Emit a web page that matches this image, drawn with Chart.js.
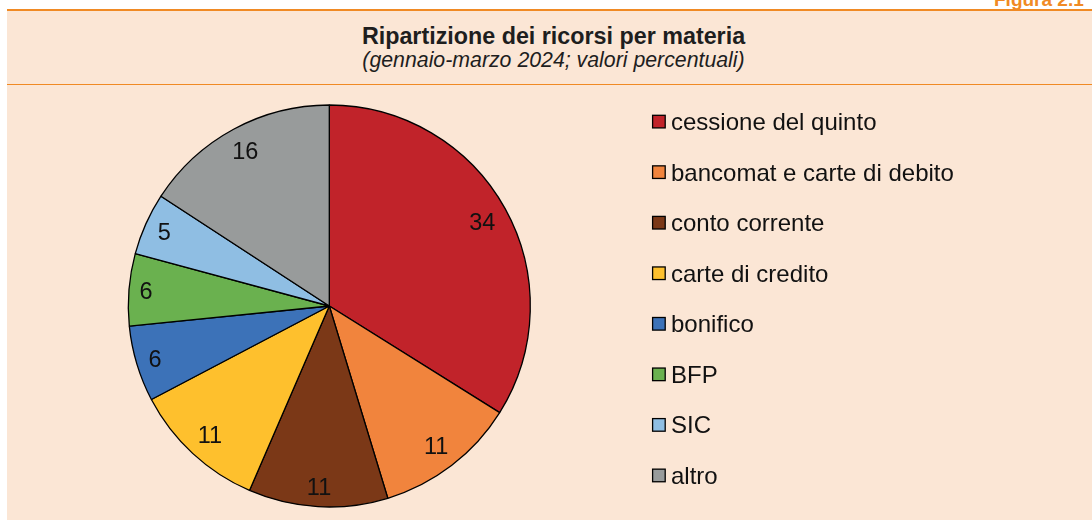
<!DOCTYPE html>
<html><head><meta charset="utf-8">
<script src="https://cdn.jsdelivr.net/npm/chart.js@4.4.1/dist/chart.umd.min.js"></script>
<style>
html,body{margin:0;padding:0;background:#fff;width:1092px;height:521px;overflow:hidden;font-family:"Liberation Sans",Arial,sans-serif;}
#fig{position:absolute;left:994px;top:-9.5px;font:bold 19px "Liberation Sans",Arial,sans-serif;line-height:17px;color:#F08A24;white-space:nowrap;}
#panel{position:absolute;left:7px;top:9px;width:1085px;height:509px;background:#FBE6D5;border-top:2px solid #F08A24;}
#sep{position:absolute;left:7px;top:83.5px;width:1085px;height:1.6px;background:#F08A24;}
#title{position:absolute;left:0;top:24.6px;width:1107px;text-align:center;font:bold 23.3px "Liberation Sans",Arial,sans-serif;line-height:23.3px;color:#1e1e1e;white-space:nowrap;}
#subtitle{position:absolute;left:0;top:49.8px;width:1107px;text-align:center;font:italic 21.3px "Liberation Sans",Arial,sans-serif;line-height:21.3px;color:#1e1e1e;white-space:nowrap;}
#wrap{position:absolute;left:7px;top:86px;width:1085px;height:434px;}
</style>
</head><body>
<div id="fig">Figura 2.1</div>
<div id="panel"></div>
<div id="sep"></div>
<div id="title">Ripartizione dei ricorsi per materia</div>
<div id="subtitle">(gennaio-marzo 2024; valori percentuali)</div>
<div id="wrap"><canvas id="c" width="1085" height="434"></canvas></div>
<script>
const categories = ['cessione del quinto','bancomat e carte di debito','conto corrente','carte di credito','bonifico','BFP','SIC','altro'];
// slice sizes (labels show them rounded)
const values = [33.9, 11.4, 11.2, 10.8, 6.1, 5.8, 5.0, 15.8];
const colors = ['#C1232A','#F1843D','#7B3817','#FEC02D','#3C72B8','#6AB14F','#8FBEE3','#989B9B'];

const labelSize = 23.5;
const labelFont = labelSize + 'px "Liberation Sans", Arial, sans-serif';
const legendFont = '24px "Liberation Sans", Arial, sans-serif';

const sliceLabels = {
  id: 'sliceLabels',
  afterDatasetsDraw(chart) {
    const ctx = chart.ctx;
    const meta = chart.getDatasetMeta(0);
    ctx.save();
    ctx.font = labelFont;
    ctx.fillStyle = '#111';
    ctx.textAlign = 'center';
    ctx.textBaseline = 'alphabetic';
    meta.data.forEach((arc, i) => {
      const p = arc.getProps(['x','y','startAngle','endAngle','outerRadius'], true);
      const mid = (p.startAngle + p.endAngle) / 2;
      const ux = Math.cos(mid), uy = Math.sin(mid);
      const txt = String(Math.round(values[i]));
      const w = ctx.measureText(txt).width;
      const hw = w / 2 + 2.5, hh = 11.5;
      const Rm = p.outerRadius - 7;
      const ax = Math.abs(ux), ay = Math.abs(uy);
      const b = ax * hw + ay * hh;
      const c = hw * hw + hh * hh - Rm * Rm;
      const d = -b + Math.sqrt(b * b - c);
      const cx = p.x + ux * d, cy = p.y + uy * d;
      ctx.fillText(txt, cx, cy + labelSize * 0.358);
    });
    ctx.restore();
  }
};

const sideLegend = {
  id: 'sideLegend',
  afterDraw(chart) {
    const ctx = chart.ctx;
    ctx.save();
    ctx.font = legendFont;
    ctx.textAlign = 'left';
    ctx.textBaseline = 'alphabetic';
    categories.forEach((name, i) => {
      const cy = 35.6 + i * 50.55;
      ctx.fillStyle = colors[i];
      ctx.fillRect(645.6, cy - 6.3, 12.6, 12.6);
      ctx.strokeStyle = '#000';
      ctx.lineWidth = 1.3;
      ctx.strokeRect(645.6, cy - 6.3, 12.6, 12.6);
      ctx.fillStyle = '#111';
      ctx.fillText(name, 664, cy + 8.4);
    });
    ctx.restore();
  }
};

new Chart(document.getElementById('c'), {
  type: 'pie',
  data: {
    labels: categories,
    datasets: [{
      data: values,
      backgroundColor: colors,
      borderColor: '#000',
      borderWidth: 1.3,
      radius: 201
    }]
  },
  options: {
    responsive: false,
    animation: false,
    events: [],
    layout: { padding: { left: 0, right: 440.4, top: 6, bottom: 0 } },
    plugins: { legend: { display: false }, tooltip: { enabled: false }, title: { display: false } }
  },
  plugins: [sliceLabels, sideLegend]
});
</script>
</body></html>
